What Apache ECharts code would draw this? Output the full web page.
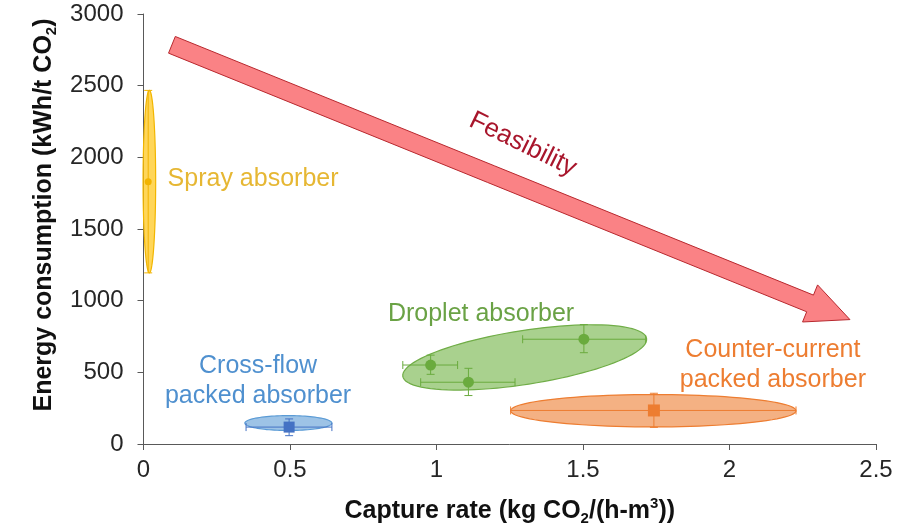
<!DOCTYPE html>
<html>
<head>
<meta charset="utf-8">
<script src="https://cdn.jsdelivr.net/npm/echarts@6/dist/echarts.min.js"></script>
<style>
  html, body { margin: 0; padding: 0; background: #fff; }
  #chart { width: 915px; height: 531px; }
</style>
</head>
<body>
<div id="chart"></div>
<script>
// Absorber groups
const groupNames = ['Spray absorber', 'Cross-flow\npacked absorber', 'Droplet absorber', 'Counter-current\npacked absorber'];

// Measured points per group: capture rate (kg CO2/(h-m3)) and energy (kWh/t CO2)
const sprayRate = [0.016];
const sprayEnergy = [1830];
const sprayRateLow = [0.016];
const sprayRateHigh = [0.016];
const sprayEnergyLow = [1194];
const sprayEnergyHigh = [2467];

const crossRate = [0.497];
const crossEnergy = [118];
const crossRateLow = [0.35];
const crossRateHigh = [0.643];
const crossEnergyLow = [58];
const crossEnergyHigh = [175];

const dropletRate = [0.98, 1.109, 1.503];
const dropletEnergy = [551, 431, 731];
const dropletRateLow = [0.885, 0.946, 1.294];
const dropletRateHigh = [1.072, 1.268, 1.714];
const dropletEnergyLow = [486, 338, 637];
const dropletEnergyHigh = [620, 528, 833];

const counterRate = [1.742];
const counterEnergy = [234];
const counterRateLow = [1.253];
const counterRateHigh = [2.227];
const counterEnergyLow = [116];
const counterEnergyHigh = [354];

// Operating regions: major-axis ends and minor half-span, in data units
const regionStart = [[0.02, 1194], [0.346, 146], [0.885, 472], [1.253, 232]];
const regionEnd = [[0.02, 2467], [0.643, 146], [1.717, 736], [2.227, 232]];
const regionHalfSpan = [[0.0215, 0], [0, 52], [0, 188], [0, 113]];

// Trend arrow ends (data units)
const trendStart = [0.097, 2785];
const trendEnd = [2.411, 868];
const trendLabel = 'Feasibility';

// Axis ticks
const rateTicks = [0, 0.5, 1, 1.5, 2, 2.5];
const energyTicks = [0, 500, 1000, 1500, 2000, 2500, 3000];

const groups = [
  { rate: sprayRate, energy: sprayEnergy, rl: sprayRateLow, rh: sprayRateHigh, el: sprayEnergyLow, eh: sprayEnergyHigh },
  { rate: crossRate, energy: crossEnergy, rl: crossRateLow, rh: crossRateHigh, el: crossEnergyLow, eh: crossEnergyHigh },
  { rate: dropletRate, energy: dropletEnergy, rl: dropletRateLow, rh: dropletRateHigh, el: dropletEnergyLow, eh: dropletEnergyHigh },
  { rate: counterRate, energy: counterEnergy, rl: counterRateLow, rh: counterRateHigh, el: counterEnergyLow, eh: counterEnergyHigh }
];

const styles = [
  { fill: 'rgba(255,192,0,0.65)', stroke: '#F2B600', mark: '#F2B400', symbol: 'circle', size: 7, text: '#E6B733' },
  { fill: '#9DC3E6', stroke: '#5B9BD5', mark: '#4472C4', symbol: 'rect', size: 11, text: '#4F90CF' },
  { fill: '#A9D18E', stroke: '#70AD47', mark: '#6AAB3E', symbol: 'circle', size: 11, text: '#6AA245' },
  { fill: '#F4B183', stroke: '#ED7D31', mark: '#ED7D31', symbol: 'rect', size: 12, text: '#ED7D31' }
];

// Label anchors (data units, text centre)
const labelAnchors = [[0.374, 1847], [0.391, 437], [1.152, 903], [2.148, 552]];

const FONT = '"Liberation Sans", Arial, sans-serif';

function ellipseItem(params, api) {
  const p1 = api.coord([api.value(0), api.value(1)]);
  const p2 = api.coord([api.value(2), api.value(3)]);
  const s = api.size([api.value(4), api.value(5)]);
  const b = Math.hypot(s[0], s[1]);
  const a = Math.hypot(p2[0] - p1[0], p2[1] - p1[1]) / 2;
  const cx = (p1[0] + p2[0]) / 2, cy = (p1[1] + p2[1]) / 2;
  const ang = Math.atan2(p2[1] - p1[1], p2[0] - p1[0]);
  const ca = Math.cos(ang), sa = Math.sin(ang);
  const pts = [];
  for (let i = 0; i < 96; i++) {
    const t = (i / 96) * Math.PI * 2;
    const ex = a * Math.cos(t), ey = b * Math.sin(t);
    pts.push([cx + ex * ca - ey * sa, cy + ex * sa + ey * ca]);
  }
  const st = styles[params.dataIndex];
  return { type: 'polygon', shape: { points: pts }, style: { fill: st.fill, stroke: st.stroke, lineWidth: 1.2 } };
}

function errorBarItem(color) {
  return function (params, api) {
    const x = api.value(0), y = api.value(1);
    const xl = api.value(2), xh = api.value(3), yl = api.value(4), yh = api.value(5);
    const cap = 4;
    const children = [];
    const ls = { stroke: color, lineWidth: 1 };
    if (yl !== yh) {
      const a = api.coord([x, yl]), b = api.coord([x, yh]);
      children.push({ type: 'line', shape: { x1: a[0], y1: a[1], x2: b[0], y2: b[1] }, style: ls });
      children.push({ type: 'line', shape: { x1: a[0] - cap, y1: a[1], x2: a[0] + cap, y2: a[1] }, style: ls });
      children.push({ type: 'line', shape: { x1: b[0] - cap, y1: b[1], x2: b[0] + cap, y2: b[1] }, style: ls });
    }
    if (xl !== xh) {
      const a = api.coord([xl, y]), b = api.coord([xh, y]);
      children.push({ type: 'line', shape: { x1: a[0], y1: a[1], x2: b[0], y2: b[1] }, style: ls });
      children.push({ type: 'line', shape: { x1: a[0], y1: a[1] - cap, x2: a[0], y2: a[1] + cap }, style: ls });
      children.push({ type: 'line', shape: { x1: b[0], y1: b[1] - cap, x2: b[0], y2: b[1] + cap }, style: ls });
    }
    return { type: 'group', children };
  };
}

function arrowItem(params, api) {
  const p1 = api.coord([api.value(0), api.value(1)]);
  const p2 = api.coord([api.value(2), api.value(3)]);
  const dx = p2[0] - p1[0], dy = p2[1] - p1[1];
  const len = Math.hypot(dx, dy);
  const ux = dx / len, uy = dy / len, nx = -uy, ny = ux;
  const shaft = 9, head = 20, headLen = 43;
  const bx = p2[0] - ux * headLen, by = p2[1] - uy * headLen;
  const pts = [
    [p1[0] + nx * shaft, p1[1] + ny * shaft],
    [bx + nx * shaft, by + ny * shaft],
    [bx + nx * head, by + ny * head],
    [p2[0], p2[1]],
    [bx - nx * head, by - ny * head],
    [bx - nx * shaft, by - ny * shaft],
    [p1[0] - nx * shaft, p1[1] - ny * shaft]
  ];
  return { type: 'polygon', shape: { points: pts }, style: { fill: '#FA8285', stroke: '#B8282E', lineWidth: 1 } };
}

function textItem(params, api) {
  const p = api.coord([api.value(0), api.value(1)]);
  const st = styles[params.dataIndex];
  return {
    type: 'text',
    x: p[0], y: p[1],
    style: {
      text: groupNames[params.dataIndex],
      fill: st.text, font: '25px ' + FONT,
      align: 'center', verticalAlign: 'middle', lineHeight: 30
    }
  };
}

const series = [];

series.push({
  type: 'custom', name: 'regions', renderItem: ellipseItem, z: 1, silent: true,
  encode: { x: [0, 2], y: [1, 3] },
  data: regionStart.map((s, i) => [s[0], s[1], regionEnd[i][0], regionEnd[i][1], regionHalfSpan[i][0], regionHalfSpan[i][1]])
});

series.push({
  type: 'custom', name: 'trend', renderItem: arrowItem, z: 1, silent: true,
  encode: { x: [0, 2], y: [1, 3] },
  data: [[trendStart[0], trendStart[1], trendEnd[0], trendEnd[1]]]
});

groups.forEach((g, gi) => {
  series.push({
    type: 'custom', name: 'err' + gi, renderItem: errorBarItem(styles[gi].mark), z: 3, silent: true,
    encode: { x: [0, 2, 3], y: [1, 4, 5] },
    data: g.rate.map((r, i) => [r, g.energy[i], g.rl[i], g.rh[i], g.el[i], g.eh[i]])
  });
  series.push({
    type: 'scatter', name: groupNames[gi], z: 4, silent: true,
    symbol: styles[gi].symbol, symbolSize: styles[gi].size,
    itemStyle: { color: styles[gi].mark, opacity: 1 },
    data: g.rate.map((r, i) => [r, g.energy[i]])
  });
});

series.push({
  type: 'custom', name: 'labels', renderItem: textItem, z: 5, silent: true,
  data: labelAnchors
});

series.push({
  type: 'custom', name: 'trendLabel', z: 5, silent: true,
  renderItem: function (params, api) {
    const p = api.coord([api.value(0), api.value(1)]);
    return {
      type: 'text', x: p[0], y: p[1], rotation: -26 * Math.PI / 180,
      style: { text: trendLabel, fill: '#A8162C', font: '26px ' + FONT, align: 'center', verticalAlign: 'middle' }
    };
  },
  data: [[1.295, 2090]]
});

const chart = echarts.init(document.getElementById('chart'), null, { renderer: 'canvas' });
chart.setOption({
  backgroundColor: '#ffffff',
  animation: false,
  grid: { left: 143.5, right: 39, top: 14, bottom: 85 },
  xAxis: {
    type: 'value', min: rateTicks[0], max: rateTicks[rateTicks.length - 1], interval: 0.5,
    name: 'Capture rate (kg CO{sub|2}/(h-m{sup|3}))',
    nameLocation: 'middle', nameGap: 52,
    nameTextStyle: {
      fontFamily: FONT, fontSize: 25, fontWeight: 'bold', color: '#111', lineHeight: 30,
      rich: {
        sub: { fontFamily: FONT, fontSize: 15, fontWeight: 'bold', color: '#111', lineHeight: 12, verticalAlign: 'bottom' },
        sup: { fontFamily: FONT, fontSize: 15, fontWeight: 'bold', color: '#111', lineHeight: 12, verticalAlign: 'top' }
      }
    },
    axisLine: { lineStyle: { color: '#595959', width: 1 } },
    axisTick: { show: true, length: 6, lineStyle: { color: '#595959' } },
    axisLabel: { fontFamily: FONT, fontSize: 24, color: '#262626', margin: 14, formatter: v => String(v) },
    splitLine: { show: false }
  },
  yAxis: {
    type: 'value', min: energyTicks[0], max: energyTicks[energyTicks.length - 1], interval: 500,
    name: 'Energy consumption (kWh/t CO{sub|2})',
    nameLocation: 'middle', nameGap: 84, nameRotate: 90,
    nameTextStyle: {
      fontFamily: FONT, fontSize: 25, fontWeight: 'bold', color: '#111', lineHeight: 30,
      padding: [0, 0, 0, 28],
      rich: {
        sub: { fontFamily: FONT, fontSize: 15, fontWeight: 'bold', color: '#111', lineHeight: 12, verticalAlign: 'bottom' }
      }
    },
    axisLine: { show: true, lineStyle: { color: '#595959', width: 1 } },
    axisTick: { show: true, length: 6, lineStyle: { color: '#595959' } },
    axisLabel: { fontFamily: FONT, fontSize: 24, color: '#262626', margin: 20, formatter: v => String(v) },
    splitLine: { show: false }
  },
  series
});
</script>
</body>
</html>
